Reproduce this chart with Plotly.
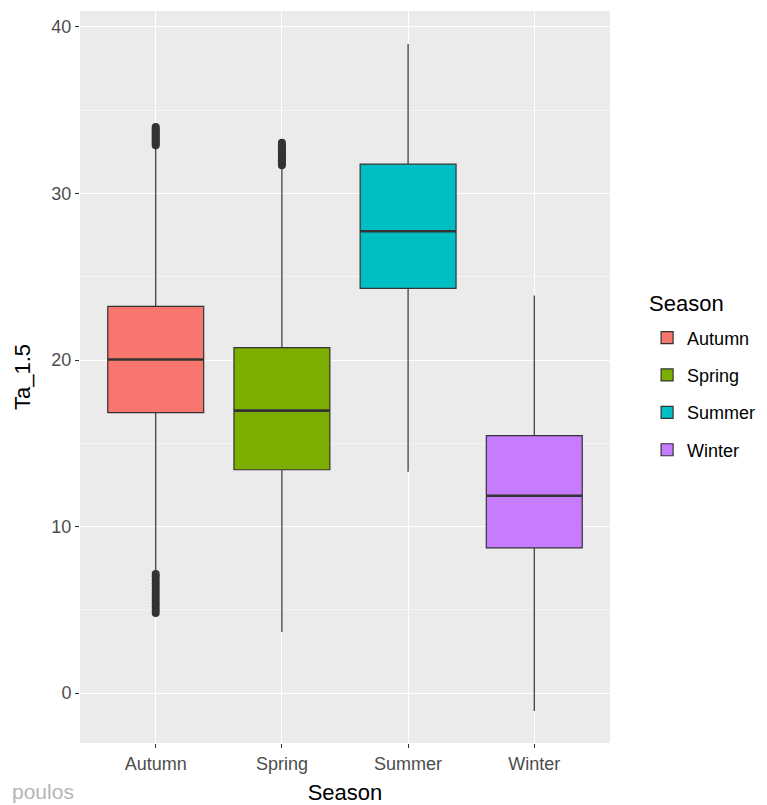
import plotly.graph_objects as go

seasons = ["Autumn", "Spring", "Summer", "Winter"]
colors = ["#F8766D", "#7CAE00", "#00BFC4", "#C77CFF"]
q1 = [16.84, 13.41, 24.30, 8.72]
median = [20.03, 16.96, 27.73, 11.85]
q3 = [23.22, 20.75, 31.76, 15.46]
lower = [7.27, 3.67, 13.29, -1.08]
upper = [32.80, 31.60, 38.98, 23.88]

outliers = {
    "Autumn": [32.9, 33.0, 33.1, 33.2, 33.3, 33.4, 33.5, 33.6, 33.7, 33.8, 33.9, 34.0,
               4.8, 5.0, 5.2, 5.4, 5.6, 5.8, 6.0, 6.2, 6.4, 6.6, 6.8, 7.0, 7.15],
    "Spring": [31.7, 31.8, 31.9, 32.0, 32.1, 32.2, 32.3, 32.4, 32.5, 32.6, 32.7, 32.8, 32.9, 33.05],
    "Summer": [],
    "Winter": [],
}

box_width = 0.76
fig = go.Figure()
for i, s in enumerate(seasons):
    fig.add_trace(go.Box(
        x=[i], q1=[q1[i]], median=[median[i]], q3=[q3[i]],
        lowerfence=[lower[i]], upperfence=[upper[i]],
        width=box_width, whiskerwidth=0, boxpoints=False,
        fillcolor=colors[i], line=dict(color="#333333", width=1.2),
        name=s, legendgroup=s, showlegend=True, hoverinfo="skip",
    ))
for i, s in enumerate(seasons):
    fig.add_trace(go.Scatter(
        x=[i - box_width / 2, i + box_width / 2], y=[median[i], median[i]],
        mode="lines", line=dict(color="#333333", width=2.6),
        showlegend=False, hoverinfo="skip",
    ))
    if outliers[s]:
        fig.add_trace(go.Scatter(
            x=[i] * len(outliers[s]), y=outliers[s], mode="markers",
            marker=dict(color="#333333", size=8, line=dict(width=0)),
            showlegend=False, hoverinfo="skip",
        ))

fig.update_layout(
    width=767, height=805,
    margin=dict(l=80, r=157, t=11, b=62, autoexpand=False),
    paper_bgcolor="white", plot_bgcolor="#EBEBEB",
    font=dict(family="Liberation Sans, Arial, sans-serif", color="#4D4D4D"),
    legend=dict(
        x=1.07, xanchor="left", y=0.477, yanchor="middle",
        font=dict(size=18, color="black"), tracegroupgap=11,
        bgcolor="rgba(0,0,0,0)",
    ),
    annotations=[
        dict(
            text="Season", xref="paper", yref="paper", x=1.07, y=0.601,
            xanchor="left", yanchor="middle", showarrow=False,
            font=dict(size=22, color="black"),
        ),
        dict(
            text="poulos", xref="paper", yref="paper", x=-0.008, y=-0.066,
            xanchor="right", yanchor="middle", showarrow=False,
            font=dict(size=21, color="#B5B5B5"),
        ),
    ],
)
fig.update_xaxes(
    range=[-0.6, 3.6], tickvals=[0, 1, 2, 3], ticktext=seasons,
    showgrid=True, gridcolor="white", gridwidth=1.4, zeroline=False,
    ticks="outside", ticklen=4, tickcolor="#333333",
    tickfont=dict(size=18, color="#4D4D4D"),
    title=dict(text="Season", font=dict(size=22, color="black"), standoff=12),
)
fig.update_yaxes(
    range=[-3.0, 40.96], tickvals=[0, 10, 20, 30, 40],
    showgrid=True, gridcolor="white", gridwidth=1.4, zeroline=False,
    minor=dict(dtick=5, tick0=0, showgrid=True, gridcolor="#F5F5F5", gridwidth=0.6),
    ticks="outside", ticklen=4, tickcolor="#333333",
    tickfont=dict(size=18, color="#4D4D4D"),
    title=dict(text="Ta_1.5", font=dict(size=22, color="black"), standoff=14),
)
fig.write_html("out.html")
